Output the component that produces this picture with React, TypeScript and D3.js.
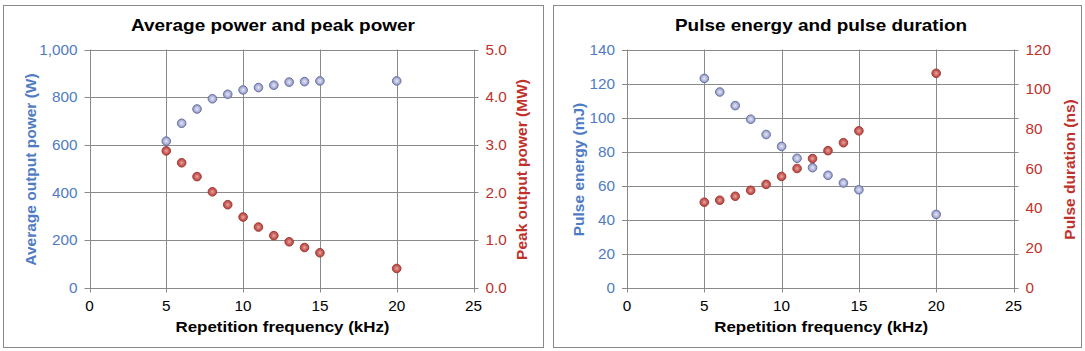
import React from "react";
import * as d3 from "d3";

const freq = [5, 6, 7, 8, 9, 10, 11, 12, 13, 14, 15, 20];
const avgPower = [615, 690, 750, 793, 812, 830, 840, 850, 863, 865, 868, 868];
const peakPower = [2.87, 2.62, 2.33, 2.01, 1.74, 1.48, 1.27, 1.09, 0.96, 0.84, 0.73, 0.4];
const pulseEnergy = [123, 115, 107, 99, 90, 83, 76, 70.5, 66, 61.5, 57.5, 43];
const pulseDuration = [43, 44, 46, 49, 52, 56, 60, 65, 69, 73, 79, 108];

const xTicks = [0, 5, 10, 15, 20, 25];
const avgTicks = [0, 200, 400, 600, 800, 1000];
const peakTicks = [0, 1, 2, 3, 4, 5];
const energyTicks = [0, 20, 40, 60, 80, 100, 120, 140];
const durTicks = [0, 20, 40, 60, 80, 100, 120];

const BLUE = "#4F7BC4";
const RED = "#C0312B";
const GRID = "#8a8a8a";
const FONT = "'Liberation Sans', Arial, sans-serif";

type PanelProps = {
  bx: number; bw: number; left: number; right: number;
  title: string; titleX: number; titleLen: number;
  leftTitle: string; rightTitle: string;
  leftMax: number; rightMax: number;
  leftTicks: number[]; rightTicks: number[];
  leftFmt: (v: number) => string; rightFmt: (v: number) => string;
  leftData: number[]; rightData: number[];
  leftTitleX: number; rightTitleX: number;
};

const TOP = 49.5;
const BOTTOM = 287.5;

function Panel(p: PanelProps) {
  const x = d3.scaleLinear().domain([0, 25]).range([p.left, p.right]);
  const yl = d3.scaleLinear().domain([0, p.leftMax]).range([BOTTOM, TOP]);
  const yr = d3.scaleLinear().domain([0, p.rightMax]).range([BOTTOM, TOP]);
  const cx = (p.left + p.right) / 2;
  const cy = (TOP + BOTTOM) / 2;
  return (
    <g>
      <rect x={p.bx + 0.5} y={5.5} width={p.bw} height={342} fill="#fff" stroke={GRID} strokeWidth={1} />
      <text x={p.titleX} y={31} textAnchor="middle" fontFamily={FONT} fontWeight="bold" fontSize={17} fill="#000"
        textLength={p.titleLen} lengthAdjust="spacingAndGlyphs">{p.title}</text>
      {p.leftTicks.map((t) => (
        <line key={"h" + t} x1={p.left - 5} x2={p.right + 5} y1={Math.round(yl(t)) + 0.5} y2={Math.round(yl(t)) + 0.5} stroke={GRID} strokeWidth={1} />
      ))}
      {xTicks.map((t) => (
        <line key={"v" + t} x1={Math.round(x(t)) + 0.5} x2={Math.round(x(t)) + 0.5} y1={TOP} y2={BOTTOM + 5} stroke={GRID} strokeWidth={1} />
      ))}
      {p.leftTicks.map((t) => (
        <text key={"lt" + t} x={p.left - 12} y={yl(t) + 5.3} textAnchor="end" fontFamily={FONT} fontSize={15.3} fill={BLUE}>{p.leftFmt(t)}</text>
      ))}
      {p.rightTicks.map((t) => (
        <text key={"rt" + t} x={p.right + 12} y={yr(t) + 5.3} textAnchor="start" fontFamily={FONT} fontSize={15.3} fill={RED}>{p.rightFmt(t)}</text>
      ))}
      {xTicks.map((t) => (
        <text key={"xt" + t} x={x(t)} y={311} textAnchor="middle" fontFamily={FONT} fontSize={15.3} fill="#000">{t}</text>
      ))}
      <text x={cx + 1} y={332} textAnchor="middle" fontFamily={FONT} fontWeight="bold" fontSize={15.5} fill="#000"
        textLength={214} lengthAdjust="spacingAndGlyphs">Repetition frequency (kHz)</text>
      <text transform={`translate(${p.leftTitleX},${cy + 1}) rotate(-90)`} textAnchor="middle" fontFamily={FONT} fontWeight="bold" fontSize={15.5} fill={BLUE}>{p.leftTitle}</text>
      <text transform={`translate(${p.rightTitleX},${cy + 1}) rotate(-90)`} textAnchor="middle" fontFamily={FONT} fontWeight="bold" fontSize={15.5} fill={RED}>{p.rightTitle}</text>
      {freq.map((f, i) => (
        <circle key={"ld" + i} cx={x(f)} cy={yl(p.leftData[i])} r={4.3} fill="url(#gBlue)" stroke="#6A73A6" strokeWidth={1} />
      ))}
      {freq.map((f, i) => (
        <circle key={"rd" + i} cx={x(f)} cy={yr(p.rightData[i])} r={4.3} fill="url(#gRed)" stroke="#A33A36" strokeWidth={1} />
      ))}
    </g>
  );
}

export default function App() {
  return (
    <svg width={1085} height={351} style={{ position: "absolute", left: 0, top: 0, background: "#fff" }}>
      <defs>
        <radialGradient id="gBlue" cx="50%" cy="50%" r="50%">
          <stop offset="0%" stopColor="#E6E8F4" />
          <stop offset="60%" stopColor="#B3B8DA" />
          <stop offset="100%" stopColor="#8890C0" />
        </radialGradient>
        <radialGradient id="gRed" cx="50%" cy="50%" r="50%">
          <stop offset="0%" stopColor="#E9A8A5" />
          <stop offset="60%" stopColor="#C9605B" />
          <stop offset="100%" stopColor="#B4443F" />
        </radialGradient>
      </defs>
      <Panel
        bx={3} bw={540} left={89.5} right={473.5}
        title="Average power and peak power" titleX={273} titleLen={284}
        leftTitle="Average output power (W)" rightTitle="Peak output power (MW)"
        leftMax={1000} rightMax={5}
        leftTicks={avgTicks} rightTicks={peakTicks}
        leftFmt={(v) => d3.format(",")(v)} rightFmt={(v) => v.toFixed(1)}
        leftData={avgPower} rightData={peakPower}
        leftTitleX={36} rightTitleX={527}
      />
      <Panel
        bx={553} bw={528} left={627} right={1013.5}
        title="Pulse energy and pulse duration" titleX={821} titleLen={292}
        leftTitle="Pulse energy (mJ)" rightTitle="Pulse duration (ns)"
        leftMax={140} rightMax={120}
        leftTicks={energyTicks} rightTicks={durTicks}
        leftFmt={(v) => String(v)} rightFmt={(v) => String(v)}
        leftData={pulseEnergy} rightData={pulseDuration}
        leftTitleX={584} rightTitleX={1075}
      />
    </svg>
  );
}
